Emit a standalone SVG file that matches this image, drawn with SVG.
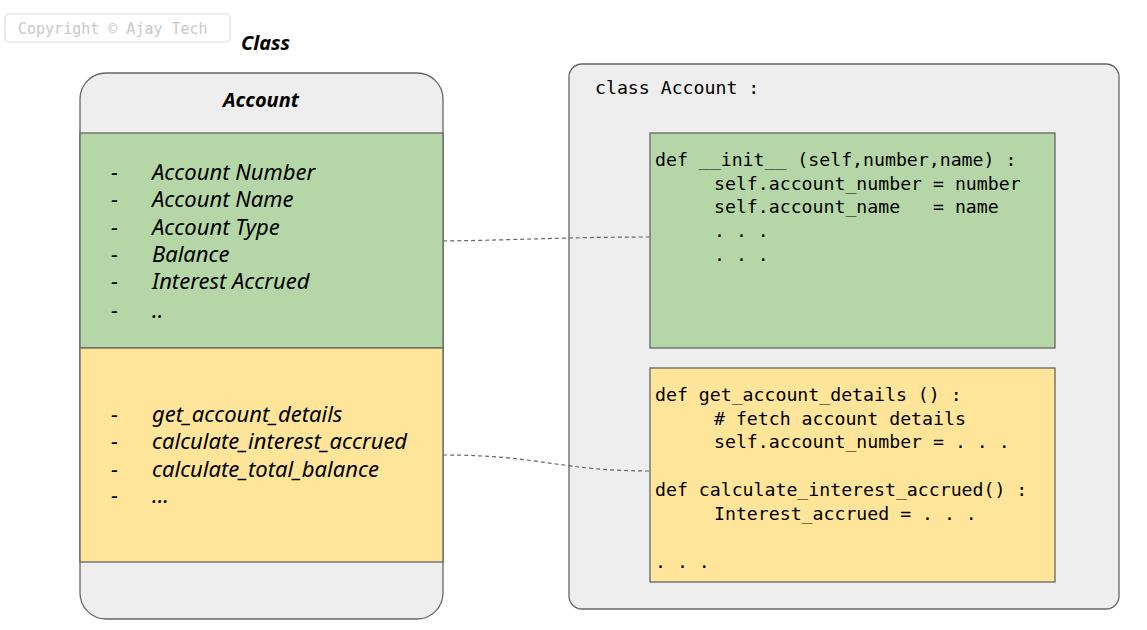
<svg xmlns="http://www.w3.org/2000/svg" width="1147" height="630" viewBox="0 0 1147 630">
<style>
.hand{font-family:"Noto Sans","DejaVu Sans",sans-serif;font-style:italic;fill:#000}
.mono{font-family:"DejaVu Sans Mono","Liberation Mono",monospace;font-size:18.2px;fill:#000;white-space:pre}
.box{stroke:#666;stroke-width:1.3}
.conn{fill:none;stroke:#666;stroke-width:1.2;stroke-dasharray:4 3}
</style>
<rect width="1147" height="630" fill="#fff"/>
<g id="copyright">
<rect x="5" y="14" width="225" height="28" rx="4" fill="#fff" stroke="#ddd" stroke-width="1.2"/>
<text x="18" y="34" font-family="DejaVu Sans Mono,monospace" font-size="15" fill="#c8c8c8">Copyright © Ajay Tech</text>
</g>
<g id="class-label">
<text x="241" y="50" class="hand" font-size="20" font-weight="bold">Class</text>
</g>
<g id="account-uml">
<rect x="80" y="73" width="363" height="546" rx="26" fill="#eeeeee" class="box"/>
<rect x="80" y="133" width="363" height="215" fill="#b5d7a8" class="box"/>
<rect x="80" y="348" width="363" height="214" fill="#ffe599" class="box"/>
<text x="261" y="107" class="hand" font-size="20" font-weight="bold" text-anchor="middle">Account</text>
<g class="hand" font-size="22">
<text x="111" y="180">-</text><text x="152" y="180">Account Number</text>
<text x="111" y="207">-</text><text x="152" y="207">Account Name</text>
<text x="111" y="235">-</text><text x="152" y="235">Account Type</text>
<text x="111" y="262">-</text><text x="152" y="262">Balance</text>
<text x="111" y="289">-</text><text x="152" y="289">Interest Accrued</text>
<text x="111" y="318">-</text><text x="152" y="318">..</text>
<text x="111" y="422">-</text><text x="152" y="422">get_account_details</text>
<text x="111" y="449">-</text><text x="152" y="449">calculate_interest_accrued</text>
<text x="111" y="477">-</text><text x="152" y="477">calculate_total_balance</text>
<text x="111" y="503">-</text><text x="152" y="503">...</text>
</g>
</g>
<g id="account-class">
<rect x="569" y="64" width="550" height="545" rx="13" fill="#eeeeee" class="box"/>
<text x="595" y="94" class="mono">class Account :</text>
</g>
<g id="init-block">
<rect x="650" y="133" width="405" height="215" fill="#b5d7a8" class="box"/>
<text x="655" y="166" class="mono">def __init__ (self,number,name) :</text>
<text x="714" y="190" class="mono">self.account_number = number</text>
<text x="714" y="213" class="mono">self.account_name   = name</text>
<text x="714" y="237" class="mono">. . .</text>
<text x="714" y="261" class="mono">. . .</text>
</g>
<g id="methods-block">
<rect x="650" y="368" width="405" height="214" fill="#ffe599" class="box"/>
<text x="655" y="401" class="mono">def get_account_details () :</text>
<text x="714" y="425" class="mono"># fetch account details</text>
<text x="714" y="448" class="mono">self.account_number = . . .</text>
<text x="655" y="496" class="mono">def calculate_interest_accrued() :</text>
<text x="714" y="520" class="mono">Interest_accrued = . . .</text>
<text x="655" y="568" class="mono">. . .</text>
</g>
<g id="connectors">
<path class="conn" d="M443,241 C520,240 570,237 650,237"/>
<path class="conn" d="M443,455 C540,455 560,471 650,471"/>
</g>
</svg>
